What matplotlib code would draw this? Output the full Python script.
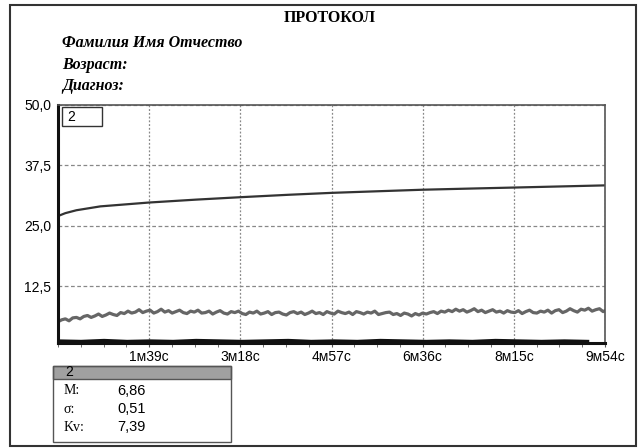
import numpy as np
import matplotlib.pyplot as plt
from matplotlib.patches import Rectangle

# Data
tick_secs = [99, 198, 297, 396, 495, 594]
tick_labels = ['1м39с', '3м18с', '4м57с', '6м36с', '8м15с', '9м54с']
y_ticks = [12.5, 25.0, 37.5, 50.0]
y_labels = ['12,5', '25,0', '37,5', '50,0']

upper_t = [0, 8, 20, 46, 99, 150, 198, 250, 297, 350, 396, 450, 495, 550, 594]
upper_v = [27.0, 27.6, 28.2, 29.0, 29.8, 30.4, 30.9, 31.4, 31.8, 32.15, 32.45, 32.7, 32.9, 33.15, 33.35]

gray_t = np.arange(0, 600, 4)
gray_v = [5.1, 5.5, 5.7, 5.3, 5.9, 6.0, 5.7, 6.2, 6.4, 6.0,
          6.3, 6.7, 6.2, 6.5, 6.9, 6.6, 6.4, 7.0, 6.8, 7.3,
          6.9, 7.1, 7.6, 7.0, 7.3, 7.5, 6.9, 7.2, 7.7, 7.1,
          7.4, 6.9, 7.2, 7.5, 7.0, 6.8, 7.3, 7.1, 7.5, 6.9,
          7.0, 7.3, 6.7, 7.1, 7.4, 6.9, 6.7, 7.2, 7.0, 7.3,
          6.8, 6.6, 7.1, 6.9, 7.3, 6.7, 6.9, 7.2, 6.6, 7.0,
          7.1, 6.7, 6.5, 7.0, 7.2, 6.8, 7.1, 6.6, 6.9, 7.3,
          6.8, 7.0, 6.6, 7.2, 6.9, 6.7, 7.3, 7.0, 6.8, 7.1,
          6.6, 7.2, 7.0, 6.7, 7.1, 6.9, 7.3, 6.6, 6.8, 7.0,
          7.1, 6.6, 6.8, 6.4, 6.9, 6.7, 6.3, 6.8, 6.5, 6.9,
          6.7, 7.0, 7.2, 6.8, 7.3, 7.1, 7.5, 7.2, 7.7, 7.3,
          7.6, 7.1, 7.4, 7.8, 7.2, 7.5, 7.0, 7.3, 7.6, 7.1,
          7.3, 6.9, 7.4, 7.1, 7.0, 7.4, 6.8, 7.2, 7.5, 7.0,
          6.9, 7.3, 7.1, 7.5, 6.9, 7.4, 7.6, 7.0, 7.3, 7.8,
          7.4, 7.1, 7.7, 7.5, 7.9, 7.3, 7.6, 7.8, 7.2, 7.6]

low_t = np.arange(0, 600, 25)
low_v = [1.1, 1.0, 1.2, 1.0, 1.1, 1.0, 1.2, 1.1, 1.0, 1.1, 1.2, 1.0,
         1.1, 1.0, 1.2, 1.1, 1.0, 1.1, 1.0, 1.2, 1.1, 1.0, 1.1, 1.0]

stat_names = ['M:', 'σ:', 'Kv:']
stat_values = ['6,86', '0,51', '7,39']

W, H = 638, 448
fig = plt.figure(figsize=(W / 100, H / 100), dpi=100)

def px(x, y):
    return x / W, 1 - y / H

# outer frame
fig.patches.append(Rectangle(px(10, 446), 626 / W, 441 / H, transform=fig.transFigure,
                             fill=False, edgecolor='#333333', lw=1.5))

serif = 'Liberation Serif'
sans = 'Liberation Sans'
fig.text(*px(330, 18), 'ПРОТОКОЛ', family=serif, weight='bold', fontsize=11.5,
         ha='center', va='center')
for y, s in [(43, 'Фамилия Имя Отчество'), (65, 'Возраст:'), (86, 'Диагноз:')]:
    fig.text(*px(62, y), s, family=serif, weight='bold', style='italic',
             fontsize=11.5, ha='left', va='center')

ax = fig.add_axes([58 / W, 1 - 343 / H, 547 / W, 238 / H])
ax.plot(upper_t, upper_v, color='#333333', lw=1.6)
ax.plot(gray_t, gray_v, color='#666666', lw=2.3)
ax.plot(low_t, low_v, color='#111111', lw=2.5)

ax.set_xlim(0, 594)
ax.set_ylim(0.7, 50)
ax.set_xticks(tick_secs)
ax.set_xticklabels(tick_labels, family=sans, fontsize=10)
ax.set_xticks(np.arange(0, 595, 24.75), minor=True)
ax.set_yticks(y_ticks)
ax.set_yticklabels(y_labels, family=sans, fontsize=10)
ax.tick_params(axis='x', which='both', direction='out', length=3, color='#555555', pad=2)
ax.tick_params(axis='y', length=0, pad=5)
ax.grid(axis='x', color='#888888', ls=(0, (1.5, 1.5)), lw=0.9)
ax.grid(axis='y', color='#888888', ls=(0, (3, 2)), lw=0.9)
for side in ['left', 'bottom']:
    ax.spines[side].set_linewidth(2.2)
    ax.spines[side].set_color('#111111')
for side in ['top', 'right']:
    ax.spines[side].set_linewidth(1.2)
    ax.spines[side].set_color('#555555')

# legend box "2"
fig.patches.append(Rectangle(px(62, 126), 40 / W, 19 / H, transform=fig.transFigure,
                             fill=True, facecolor='white', edgecolor='#333333', lw=1))
fig.text(*px(67, 117), '2', family=sans, fontsize=10, ha='left', va='center')

# statistics box
fig.patches.append(Rectangle(px(53, 379), 178 / W, 13 / H, transform=fig.transFigure,
                             facecolor='#a0a0a0', edgecolor='#555555', lw=1))
fig.patches.append(Rectangle(px(53, 442), 178 / W, 76 / H, transform=fig.transFigure,
                             fill=False, edgecolor='#555555', lw=1))
fig.text(*px(65, 372), '2', family=sans, fontsize=10, ha='left', va='center')
for i, (n, v) in enumerate(zip(stat_names, stat_values)):
    y = 391 + i * 18
    fig.text(*px(64, y), n, family=serif, fontsize=10, ha='left', va='center')
    fig.text(*px(117, y), v, family=sans, fontsize=10.5, ha='left', va='center')

fig.savefig('out.png', dpi=100)
